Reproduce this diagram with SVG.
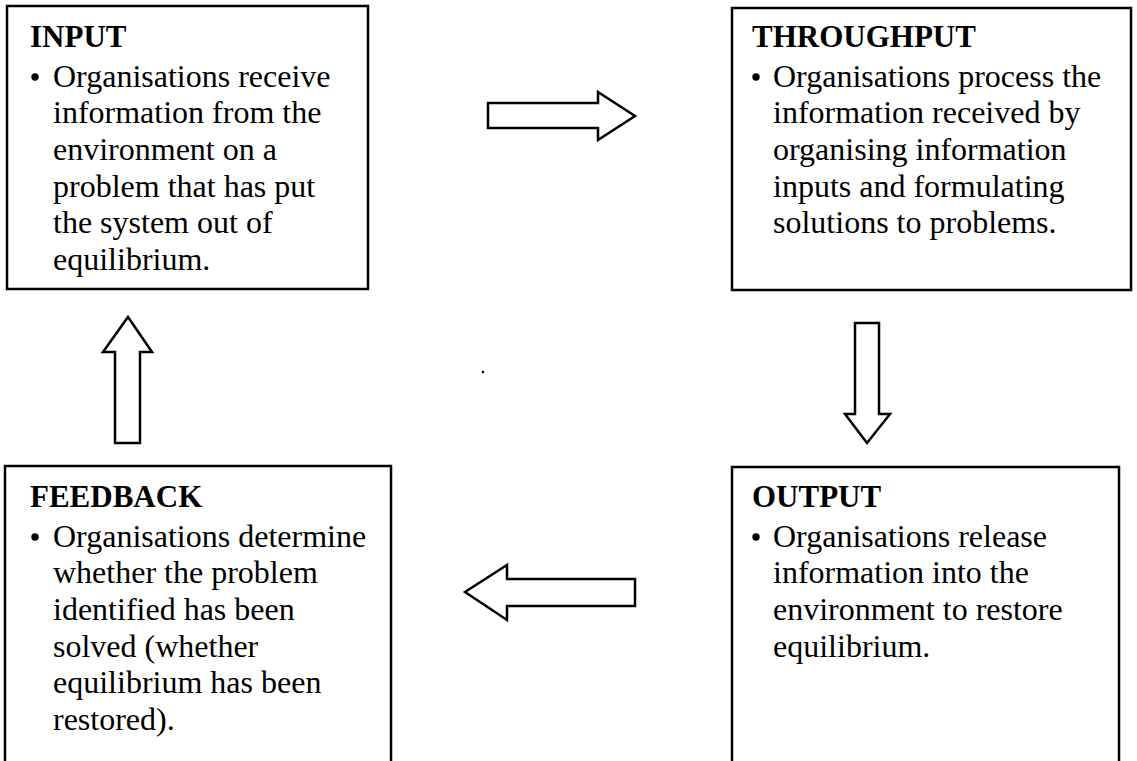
<svg xmlns="http://www.w3.org/2000/svg" width="1137" height="761" viewBox="0 0 1137 761">
<style>
.box{fill:none;stroke:#000;stroke-width:2.5}
.arr{fill:#fff;stroke:#000;stroke-width:2.5;stroke-linejoin:miter}
.t{font-family:"Liberation Serif","Times New Roman",serif;font-weight:bold;font-size:31px;fill:#000}
.b{font-family:"Liberation Serif","Times New Roman",serif;font-size:32px;fill:#000}
.dot{fill:#000}
</style>
<rect width="1137" height="761" fill="#fff"/>
<g id="input">
<rect class="box" x="7" y="6" width="361" height="283"/>
<text class="t" x="30" y="47">INPUT</text>
<circle class="dot" cx="35" cy="77" r="3.7"/>
<text class="b" x="53" y="87">Organisations receive</text>
<text class="b" x="53" y="123">information from the</text>
<text class="b" x="53" y="160">environment on a</text>
<text class="b" x="53" y="197">problem that has put</text>
<text class="b" x="53" y="233">the system out of</text>
<text class="b" x="53" y="270">equilibrium.</text>
</g>
<g id="throughput">
<rect class="box" x="732" y="8" width="399" height="282"/>
<text class="t" x="752" y="47">THROUGHPUT</text>
<circle class="dot" cx="756" cy="77" r="3.7"/>
<text class="b" x="773" y="87">Organisations process the</text>
<text class="b" x="773" y="123">information received by</text>
<text class="b" x="773" y="160">organising information</text>
<text class="b" x="773" y="197">inputs and formulating</text>
<text class="b" x="773" y="233">solutions to problems.</text>
</g>
<g id="feedback">
<path class="box" d="M5 761 V466 H391 V761"/>
<text class="t" x="30" y="507">FEEDBACK</text>
<circle class="dot" cx="35" cy="537" r="3.7"/>
<text class="b" x="53" y="547">Organisations determine</text>
<text class="b" x="53" y="583">whether the problem</text>
<text class="b" x="53" y="620">identified has been</text>
<text class="b" x="53" y="657">solved (whether</text>
<text class="b" x="53" y="693">equilibrium has been</text>
<text class="b" x="53" y="730">restored).</text>
</g>
<g id="output">
<path class="box" d="M732 761 V467 H1119 V761"/>
<text class="t" x="752" y="507">OUTPUT</text>
<circle class="dot" cx="756" cy="537" r="3.7"/>
<text class="b" x="773" y="547">Organisations release</text>
<text class="b" x="773" y="583">information into the</text>
<text class="b" x="773" y="620">environment to restore</text>
<text class="b" x="773" y="657">equilibrium.</text>
</g>
<g id="connectors">
<path class="arr" d="M488 103 H598 V92 L635 116 L598 140 V128 H488 Z"/>
<path class="arr" d="M855 323 H879 V414 H890 L867 443 L845 414 H855 Z"/>
<path class="arr" d="M635 579 H507 V565 L465 592 L507 620 V606 H635 Z"/>
<path class="arr" d="M115 443 V352 H103 L128 317 L152 352 H140 V443 Z"/>
</g>
<circle cx="483" cy="372" r="1.3" fill="#000"/>
</svg>
